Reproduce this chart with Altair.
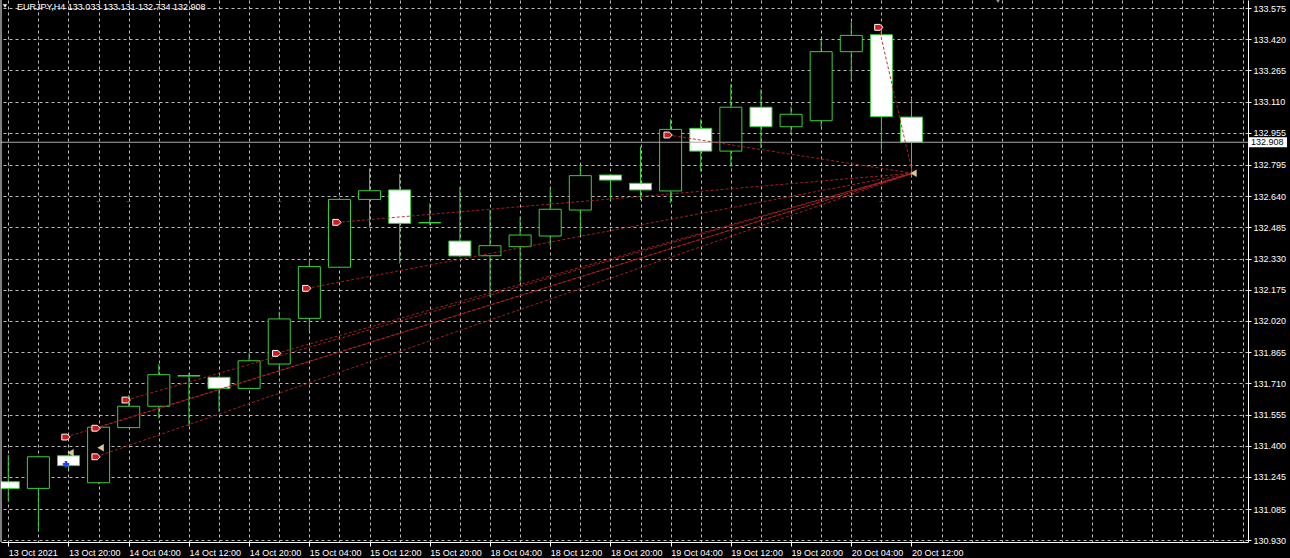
import json
import altair as alt
import pandas as pd

# ---------------- data ----------------
symbol = "EURJPY,H4"
bar_index = list(range(31))
opens = [131.221, 131.188, 131.350, 131.216, 131.490, 131.596, 131.746, 131.740, 131.685, 131.806,
         132.033, 132.287, 132.624, 132.671, 132.507, 132.417, 132.344, 132.389, 132.442, 132.571,
         132.745, 132.704, 132.666, 132.977, 132.864, 133.082, 132.985, 133.015, 133.358, 133.442,
         133.033]
highs = [131.354, 131.351, 131.369, 131.498, 131.652, 131.806, 131.761, 131.746, 131.859, 132.066,
         132.323, 132.631, 132.778, 132.750, 132.605, 132.687, 132.571, 132.538, 132.682, 132.795,
         132.750, 132.886, 133.022, 133.022, 133.196, 133.171, 133.085, 133.416, 133.507, 133.476,
         133.131]
lows = [131.122, 130.973, 131.284, 131.210, 131.488, 131.536, 131.498, 131.569, 131.682, 131.760,
        131.967, 132.283, 132.488, 132.306, 132.497, 132.338, 132.140, 132.212, 132.392, 132.447,
        132.621, 132.621, 132.605, 132.762, 132.786, 132.878, 132.952, 132.985, 133.209, 132.869,
        132.734]
closes = [131.188, 131.345, 131.301, 131.492, 131.596, 131.753, 131.749, 131.685, 131.822, 132.030,
          132.290, 132.624, 132.667, 132.505, 132.509, 132.343, 132.394, 132.447, 132.575, 132.742,
          132.720, 132.671, 132.972, 132.864, 133.082, 132.985, 133.047, 133.358, 133.439, 133.035,
          132.908]

time_labels = ["13 Oct 2021", "13 Oct 20:00", "14 Oct 04:00", "14 Oct 12:00", "14 Oct 20:00",
               "15 Oct 04:00", "15 Oct 12:00", "15 Oct 20:00", "18 Oct 04:00", "18 Oct 12:00",
               "18 Oct 20:00", "19 Oct 04:00", "19 Oct 12:00", "19 Oct 20:00", "20 Oct 04:00",
               "20 Oct 12:00"]
price_ticks = [133.575, 133.420, 133.265, 133.110, 132.955, 132.795, 132.640, 132.485, 132.330,
               132.175, 132.020, 131.865, 131.710, 131.555, 131.400, 131.245, 131.085, 130.930]

# order arrows (red), close markers (tan), other markers (blue)
entry_bars = [2, 3, 3, 4, 9, 10, 11, 22, 29]
entry_prices = [131.443, 131.487, 131.345, 131.627, 131.859, 132.182, 132.510, 132.944, 133.479]
close_bars = [2, 3, 30]
close_prices = [131.365, 131.390, 132.754]
target_bar = 30
target_price = 132.754
blue_cross_bars = [2]
blue_cross_prices = [131.308]
blue_dash_bars = [3, 4, 9, 10, 22, 29]
blue_dash_price = 132.613

current_price = 132.908

# ---------------- styling ----------------
GREEN = "#3ccf3c"
GRID = "#bcbcbc"
FONT = "Liberation Sans"
W, H = 1247, 542

df = pd.DataFrame({"i": bar_index, "open": opens, "high": highs, "low": lows, "close": closes})
entries = pd.DataFrame({"i": entry_bars, "p": entry_prices,
                        "ti": [target_bar] * len(entry_bars), "tp": [target_price] * len(entry_bars)})
closes_df = pd.DataFrame({"i": close_bars, "p": close_prices})
blue_cross = pd.DataFrame({"i": blue_cross_bars, "p": blue_cross_prices})
blue_dash = pd.DataFrame({"i": blue_dash_bars, "p": [blue_dash_price] * len(blue_dash_bars)})
cur = pd.DataFrame({"p": [current_price], "t": [f"{current_price:.3f}"]})
header = pd.DataFrame({"t": [f"{symbol}  {opens[-1]:.3f} {highs[-1]:.3f} {lows[-1]:.3f} {closes[-1]:.3f}"]})
one = pd.DataFrame({"a": [0]})

xscale = alt.Scale(domain=[-0.0758, 41.011], nice=False, zero=False)
yscale = alt.Scale(domain=[130.9216, 133.6148], nice=False, zero=False)

label_expr = ("datum.value % 2 === 0 && datum.value <= 30 ? "
              + json.dumps(time_labels) + "[datum.value / 2] : ''")

xaxis = alt.Axis(values=list(range(0, 42)), grid=True, gridColor=GRID, gridDash=[3, 3], gridWidth=1,
                 labelExpr=label_expr, labelAlign="left", labelBaseline="top", labelColor="#ffffff",
                 labelFont=FONT, labelFontSize=9, labelPadding=2, labelOverlap=False, labelFlush=False,
                 labelBound=False, tickColor="white", tickSize=4,
                 tickOpacity={"condition": {"test": "datum.value % 2 === 0 && datum.value <= 30", "value": 1},
                              "value": 0},
                 domainColor="white", domainWidth=1, title=None, orient="bottom")
yaxis = alt.Axis(values=price_ticks, orient="right", grid=True, gridColor=GRID, gridDash=[3, 3], gridWidth=1,
                 labelColor="#ffffff", labelFont=FONT, labelFontSize=9, labelPadding=2, labelOverlap=False,
                 labelFlush=False, labelBound=False, tickColor="white", tickSize=3, domainColor="white",
                 domainWidth=1, format=".3f", title=None)


def X(field="i"):
    return alt.X(f"{field}:Q", scale=xscale, axis=xaxis)


def Y(field):
    return alt.Y(f"{field}:Q", scale=yscale, axis=yaxis)


wicks = alt.Chart(df).mark_rule(color=GREEN, strokeWidth=1, clip=True).encode(
    x=X(), y=Y("low"), y2="high")

bodies = alt.Chart(df).mark_bar(size=22, stroke=GREEN, strokeWidth=1, clip=True).encode(
    x=X(), y=Y("open"), y2="close",
    fill=alt.condition("datum.close >= datum.open", alt.value("#000000"), alt.value("#ffffff")))

cur_line = alt.Chart(cur).mark_rule(color="#a8a8a8", strokeWidth=1).encode(y=Y("p"))

lines = alt.Chart(entries).mark_rule(color="#b22222", strokeWidth=1, strokeDash=[3, 2], opacity=0.9,
                                     xOffset=-2.5, x2Offset=1).encode(
    x=X(), y=Y("p"), x2="ti", y2="tp")

arrow_shape = "M-1,-0.7L0.3,-0.7L1,0L0.3,0.7L-1,0.7Z"
entry_pts = alt.Chart(entries).mark_point(shape=arrow_shape, filled=True, fill="#d01c1c", stroke="#ffffff",
                                          strokeWidth=1, size=70, opacity=1, xOffset=-2.5).encode(
    x=X(), y=Y("p"))

close_pts = alt.Chart(closes_df).mark_point(shape="triangle-left", filled=True, color="#d9c79a",
                                            size=55, opacity=1, xOffset=2).encode(x=X(), y=Y("p"))

blue_pts = alt.Chart(blue_cross).mark_point(shape="cross", filled=True, color="#2340ff", size=40,
                                            opacity=1, xOffset=-2.5).encode(x=X(), y=Y("p"))

blue_marks = alt.Chart(blue_dash).mark_point(shape="M-1,0L1,0", stroke="#2a3cff", strokeWidth=1,
                                             size=16, opacity=1).encode(x=X(), y=Y("p"))

price_box = alt.Chart(cur).mark_rect(color="#ffffff", yOffset=-5, y2Offset=5).encode(
    x=alt.value(W + 1), x2=alt.value(W + 39), y=Y("p"), y2="p")
price_txt = alt.Chart(cur).mark_text(align="left", baseline="middle", color="#000000", font=FONT,
                                     fontSize=9).encode(x=alt.value(W + 3), y=Y("p"), text="t:N")

head_tri = alt.Chart(one).mark_point(shape="triangle-down", filled=True, color="#ffffff", size=18,
                                     opacity=1).encode(x=alt.value(4), y=alt.value(6))
head_txt = alt.Chart(header).mark_text(align="left", baseline="middle", color="#ffffff", font=FONT,
                                       fontSize=9).encode(x=alt.value(16), y=alt.value(7), text="t:N")
shift_mark = alt.Chart(one).mark_point(shape="triangle-down", filled=True, color="#9a9a9a", size=50,
                                       opacity=1).encode(x=alt.value(997), y=alt.value(0))
left_border = alt.Chart(one).mark_rule(color="#ffffff", strokeWidth=1).encode(
    x=alt.value(0), y=alt.value(0), y2=alt.value(H))

chart = alt.layer(
    wicks, bodies, cur_line, lines, entry_pts, close_pts, blue_pts, blue_marks,
    price_box, price_txt, head_tri, head_txt, shift_mark, left_border
).properties(
    width=W, height=H,
    autosize=alt.AutoSizeParams(type="none"),
    padding={"left": 1, "top": 0, "right": 42, "bottom": 16},
    background="#000000",
).configure_view(strokeWidth=0)

chart.save("out.html", embed_options={"renderer": "svg", "actions": False})
